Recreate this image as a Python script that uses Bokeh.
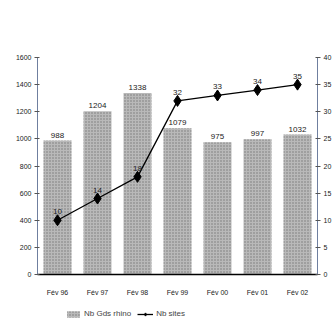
from bokeh.plotting import figure
from bokeh.layouts import column
from bokeh.models import Range1d, LinearAxis, FixedTicker, Legend, LegendItem, ColumnDataSource
from bokeh.embed import file_html
from bokeh.resources import INLINE

categories = ["Fév 96", "Fév 97", "Fév 98", "Fév 99", "Fév 00", "Fév 01", "Fév 02"]
gds_rhino = [988, 1204, 1338, 1079, 975, 997, 1032]
nb_sites = [10, 14, 18, 32, 33, 34, 35]
left_ticks = [0, 200, 400, 600, 800, 1000, 1200, 1400, 1600]
right_ticks = [0, 5, 10, 15, 20, 25, 30, 35, 40]
series_names = ["Nb Gds rhino", "Nb sites"]

FONT = "Liberation Sans"
BAR_STYLE = dict(fill_color="#b9b9b9", line_color=None, hatch_pattern="dot",
                 hatch_color="#666666", hatch_scale=3, hatch_alpha=0.8)

src = ColumnDataSource(dict(
    x=categories, bars=gds_rhino, sites=nb_sites,
    bar_lbl=[str(v) for v in gds_rhino], site_lbl=[str(v) for v in nb_sites],
))

p = figure(x_range=categories, y_range=Range1d(0, 1600), width=334, height=300,
           output_backend="svg", toolbar_location=None,
           min_border_left=37, min_border_top=57, min_border_bottom=26, min_border_right=14)
p.extra_y_ranges = {"sites": Range1d(0, 40)}

p.vbar(x="x", top="bars", width=0.7, source=src, **BAR_STYLE)
p.line(x="x", y="sites", source=src, y_range_name="sites", line_color="black",
       line_width=1.3)
p.scatter(x="x", y="sites", source=src, y_range_name="sites", marker="diamond",
          size=11, fill_color="black", line_color="black")

p.text(x="x", y="bars", text="bar_lbl", source=src, text_align="center",
       text_baseline="bottom", y_offset=-3, text_font_size="8px", text_color="#222",
       text_font={"value": FONT})
p.text(x="x", y="sites", text="site_lbl", source=src, y_range_name="sites",
       text_align="center", text_baseline="bottom", y_offset=-6, text_font_size="8px",
       text_color="#222", text_font={"value": FONT})

p.yaxis.ticker = FixedTicker(ticks=left_ticks)
ra = LinearAxis(y_range_name="sites", ticker=FixedTicker(ticks=right_ticks))
p.add_layout(ra, "right")

for ax in [p.yaxis[0], ra]:
    ax.axis_line_color = "#6f7f9f"
    ax.major_tick_line_color = "#555"
    ax.minor_tick_line_color = None
    ax.major_tick_in = 2
    ax.major_tick_out = 3
    ax.major_label_text_font_size = "7px"
    ax.major_label_text_font = FONT
    ax.major_label_text_color = "#222"
    ax.major_label_standoff = 3

p.xaxis.axis_line_color = "black"
p.xaxis.axis_line_width = 1.5
p.xaxis.major_tick_line_color = None
p.xaxis.major_label_text_font_size = "7px"
p.xaxis.major_label_text_font = FONT
p.xaxis.major_label_text_color = "#222"
p.xaxis.major_label_standoff = 8

p.xgrid.visible = False
p.ygrid.visible = False
p.outline_line_color = None

# legend strip below the chart (dummy renderers sit outside the visible range)
lg = figure(width=334, height=18, output_backend="svg", toolbar_location=None,
            x_range=Range1d(0, 1), y_range=Range1d(0, 1), min_border=0)
lg.axis.visible = False
lg.grid.visible = False
lg.outline_line_color = None
r_bar = lg.vbar(x=[-5], top=[-5], width=0.1, **BAR_STYLE)
r_line = lg.line(x=[-5, -4], y=[-5, -5], line_color="black", line_width=1.3)
r_mk = lg.scatter(x=[-5], y=[-5], marker="diamond", size=9, fill_color="black",
                  line_color="black")
legend = Legend(items=[LegendItem(label=series_names[0], renderers=[r_bar]),
                       LegendItem(label=series_names[1], renderers=[r_line, r_mk])],
                orientation="horizontal", location=(28, 0), border_line_color=None,
                label_text_font_size="8px", label_text_font=FONT, padding=2,
                spacing=6, glyph_width=16, glyph_height=8, label_standoff=3,
                margin=0, background_fill_alpha=0, label_height=8)
lg.add_layout(legend, "center")

layout = column(p, lg, spacing=0)
open("out.html", "w").write(file_html(layout, INLINE))
